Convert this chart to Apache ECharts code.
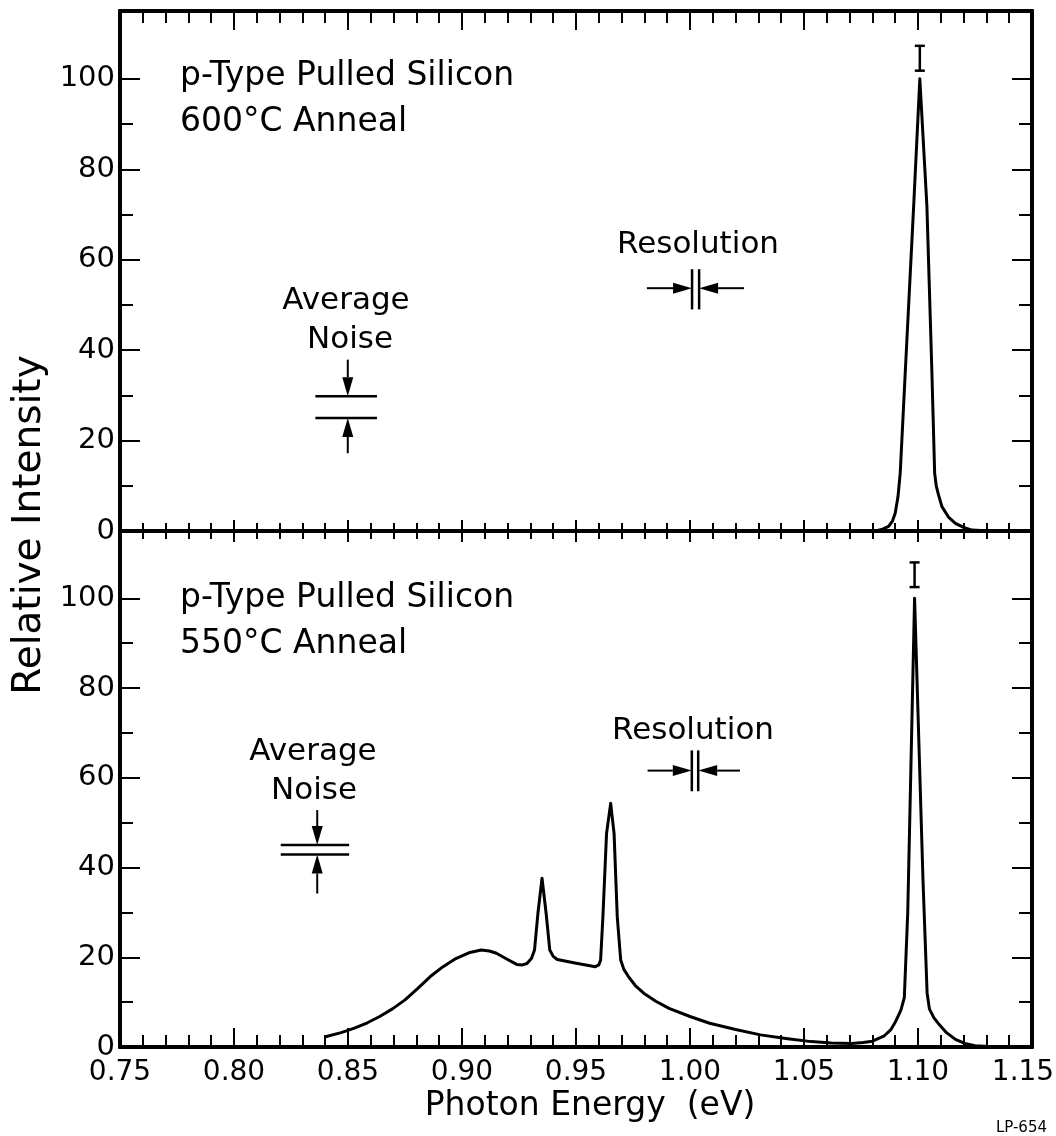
<!DOCTYPE html>
<html>
<head>
<meta charset="utf-8">
<title>p-Type Pulled Silicon</title>
<script src="https://cdn.jsdelivr.net/npm/echarts@6/dist/echarts.min.js"></script>
<style>
    html, body {margin: 0; padding: 0; background: #fff;}
    #chart {width: 1056px; height: 1136px;}
</style>
</head>
<body>
<div id="chart"></div>
<script>
    // values: photon energy (eV) -> relative intensity
    const energy600 = [1.075, 1.0813, 1.0845, 1.0871, 1.0888, 1.0900, 1.0912, 1.0922, 1.0944, 1.0981, 1.1008, 1.1039, 1.1061, 1.1073,
        1.1080, 1.1090, 1.1105, 1.1135, 1.1164, 1.1200, 1.1237, 1.1310]
    const intensity600 = [0, 0, 0.4, 1.0, 2.2, 3.9, 7.5, 12.8, 35, 71.9, 100, 71.9, 35, 12.8,
        10.0, 8.0, 5.4, 3.0, 1.7, 0.8, 0.2, 0]

    const energy550 = [0.8401, 0.8470, 0.8528, 0.8585, 0.8639, 0.8695, 0.8750, 0.8805, 0.8861, 0.8917, 0.8973, 0.9030, 0.9084, 0.9120,
        0.9151, 0.9200, 0.9240, 0.9265, 0.9285, 0.9305, 0.9318, 0.9333, 0.9351, 0.9369, 0.9385, 0.9400, 0.9418, 0.9507, 0.9585, 0.9600,
        0.9608, 0.9618, 0.9634, 0.9652, 0.9667, 0.9681, 0.9696, 0.9710, 0.9730, 0.9760, 0.9797, 0.9850, 0.9908, 1.0000, 1.0086, 1.0200,
        1.0309, 1.0420, 1.0531, 1.0620, 1.0709, 1.0760, 1.0800, 1.0850, 1.0880, 1.0900, 1.0925, 1.0940, 1.0955, 1.0985, 1.1022, 1.1040,
        1.1050, 1.1070, 1.1090, 1.1125, 1.1164, 1.1205, 1.1250, 1.1350]
    const intensity550 = [2.3, 3.2, 4.2, 5.4, 6.8, 8.5, 10.5, 13.0, 15.7, 17.9, 19.7, 21.0, 21.6, 21.4,
        20.9, 19.5, 18.4, 18.3, 18.6, 19.8, 21.6, 29.8, 37.6, 29.8, 21.6, 20.2, 19.5, 18.6, 17.9, 18.3,
        19.4, 29.0, 47.6, 54.3, 47.6, 29.0, 19.4, 17.3, 15.7, 13.7, 12.0, 10.2, 8.6, 6.8, 5.3, 3.9,
        2.7, 1.9, 1.2, 0.9, 0.8, 1.0, 1.3, 2.4, 3.8, 5.5, 8.2, 11, 30, 100, 37, 12,
        8.5, 6.5, 5.2, 3.2, 1.7, 0.8, 0.3, 0]

    const yMajorTicks = [0, 20, 40, 60, 80, 100]
    const yMinorTicks = [10, 30, 50, 70, 90]

    // annotations, [x1, y1, x2, y2] in data units (arrows: tail -> tip)
    const segments600 = [
        [0.8357, 29.8, 0.8627, 29.8], [0.8357, 25.0, 0.8627, 25.0],
        [1.0009, 57.9, 1.0009, 49.0], [1.0040, 57.9, 1.0040, 49.0],
        [1.1008, 101.8, 1.1008, 107.3], [1.0986, 107.3, 1.1030, 107.3], [1.0986, 101.8, 1.1030, 101.8]
    ]
    const arrows600 = [
        [0.8499, 37.9, 0.8499, 29.8], [0.8499, 17.2, 0.8499, 25.0],
        [0.9811, 53.7, 1.0009, 53.7], [1.0237, 53.7, 1.0040, 53.7]
    ]
    const segments550 = [
        [0.8205, 45.0, 0.8505, 45.0], [0.8205, 42.9, 0.8505, 42.9],
        [1.0008, 66.1, 1.0008, 57.0], [1.0036, 66.1, 1.0036, 57.0],
        [1.0985, 102.5, 1.0985, 108.0], [1.0963, 108.0, 1.1007, 108.0], [1.0963, 102.5, 1.1007, 102.5]
    ]
    const arrows550 = [
        [0.8365, 52.8, 0.8365, 45.0], [0.8365, 34.2, 0.8365, 42.9],
        [0.9814, 61.6, 1.0008, 61.6], [1.0219, 61.6, 1.0036, 61.6]
    ]

    const font = 'DejaVu Sans'

    function pairs(xs, ys) {
        return xs.map((x, i) => [x, ys[i]])
    }

    function renderSegment(params, api) {
        const a = api.coord([api.value(0), api.value(1)])
        const b = api.coord([api.value(2), api.value(3)])
        return {type: 'line', shape: {x1: a[0], y1: a[1], x2: b[0], y2: b[1]}, style: {stroke: '#000', lineWidth: 2.5}}
    }

    function renderArrow(params, api) {
        const a = api.coord([api.value(0), api.value(1)])
        const b = api.coord([api.value(2), api.value(3)])
        const len = Math.hypot(b[0] - a[0], b[1] - a[1])
        const ux = (b[0] - a[0]) / len, uy = (b[1] - a[1]) / len
        const hl = 19, hw = 5.5
        const bx = b[0] - ux * hl, by = b[1] - uy * hl
        return {
            type: 'group',
            children: [
                {type: 'line', shape: {x1: a[0], y1: a[1], x2: bx, y2: by}, style: {stroke: '#000', lineWidth: 2}},
                {type: 'polygon', shape: {points: [[b[0], b[1]], [bx - uy * hw, by + ux * hw], [bx + uy * hw, by - ux * hw]]}, style: {fill: '#000'}}
            ]
        }
    }

    // last tick label sits a little left of the frame, as in the original
    function energyLabel(v) {
        return Math.abs(v - 1.15) < 1e-9 ? '{end|1.15}' : v.toFixed(2)
    }

    function xAxis(gridIndex, position, major, minor, showLabel) {
        return {
            type: 'value', gridIndex, position, min: 0.75, max: 1.15, interval: 0.05,
            axisLine: {show: true, onZero: false, lineStyle: {color: '#000', width: 4}},
            axisTick: {show: true, inside: true, length: major, lineStyle: {color: '#000', width: 2}},
            minorTick: {show: true, splitNumber: 5, length: minor, lineStyle: {color: '#000', width: 2}},
            axisLabel: {
                show: showLabel, color: '#000', fontSize: 28, fontFamily: font, margin: 12, formatter: energyLabel,
                rich: {end: {color: '#000', fontSize: 28, fontFamily: font, padding: [0, 18, 0, 0]}}
            },
            splitLine: {show: false}
        }
    }

    function yAxis(gridIndex, position, ticks, length, showLabel) {
        return {
            type: 'value', gridIndex, position, min: 0, max: 115, interval: 20,
            axisLine: {show: true, onZero: false, lineStyle: {color: '#000', width: 4}},
            axisTick: {show: true, inside: true, length, customValues: ticks, lineStyle: {color: '#000', width: 2}},
            axisLabel: {show: showLabel, customValues: ticks, color: '#000', fontSize: 29, fontFamily: font, margin: 5},
            splitLine: {show: false}
        }
    }

    const texts = [
        {text: 'p-Type Pulled Silicon', x: 180, y: 76, size: 33, align: 'left'},
        {text: '600°C Anneal', x: 180, y: 122, size: 33, align: 'left'},
        {text: 'p-Type Pulled Silicon', x: 180, y: 598, size: 33, align: 'left'},
        {text: '550°C Anneal', x: 180, y: 644, size: 33, align: 'left'},
        {text: 'Average', x: 346, y: 301, size: 31},
        {text: 'Noise', x: 350, y: 340, size: 31},
        {text: 'Average', x: 313, y: 752, size: 31},
        {text: 'Noise', x: 314, y: 791, size: 31},
        {text: 'Resolution', x: 698, y: 245, size: 31},
        {text: 'Resolution', x: 693, y: 731, size: 31},
        {text: 'Relative Intensity', x: 30, y: 525, size: 39, rotation: Math.PI / 2},
        {text: 'Photon Energy  (eV)', x: 590, y: 1106, size: 33},
        {text: 'LP-654', x: 1047, y: 1128, size: 15, align: 'right'}
    ]

    const myChart = echarts.init(document.getElementById('chart'))
    myChart.setOption({
        animation: false,
        backgroundColor: '#fff',
        grid: [
            {left: 120, top: 11, width: 912, height: 520, containLabel: false, outerBoundsMode: 'none'},
            {left: 120, top: 531, width: 912, height: 516, containLabel: false, outerBoundsMode: 'none'}
        ],
        xAxis: [
            xAxis(0, 'bottom', 11, 8, false),
            xAxis(0, 'top', 19, 12, false),
            xAxis(1, 'top', 11, 8, false),
            xAxis(1, 'bottom', 19, 12, true)
        ],
        yAxis: [
            yAxis(0, 'left', yMajorTicks, 20, true),
            yAxis(0, 'left', yMinorTicks, 13, false),
            yAxis(0, 'right', yMajorTicks, 20, false),
            yAxis(0, 'right', yMinorTicks, 13, false),
            yAxis(1, 'left', yMajorTicks, 20, true),
            yAxis(1, 'left', yMinorTicks, 13, false),
            yAxis(1, 'right', yMajorTicks, 20, false),
            yAxis(1, 'right', yMinorTicks, 13, false)
        ],
        series: [
            {
                type: 'line', xAxisIndex: 0, yAxisIndex: 0, data: pairs(energy600, intensity600),
                showSymbol: false, symbol: 'none', lineStyle: {color: '#000', width: 3, join: 'round'}
            },
            {
                type: 'line', xAxisIndex: 3, yAxisIndex: 4, data: pairs(energy550, intensity550),
                showSymbol: false, symbol: 'none', lineStyle: {color: '#000', width: 3, join: 'round'}
            },
            {type: 'custom', xAxisIndex: 0, yAxisIndex: 0, data: segments600, renderItem: renderSegment},
            {type: 'custom', xAxisIndex: 0, yAxisIndex: 0, data: arrows600, renderItem: renderArrow},
            {type: 'custom', xAxisIndex: 3, yAxisIndex: 4, data: segments550, renderItem: renderSegment},
            {type: 'custom', xAxisIndex: 3, yAxisIndex: 4, data: arrows550, renderItem: renderArrow}
        ],
        graphic: texts.map(t => ({
            type: 'text', x: t.x, y: t.y, rotation: t.rotation || 0,
            style: {
                text: t.text, fill: '#000', fontSize: t.size, fontFamily: font,
                textAlign: t.align || 'center', textVerticalAlign: 'middle'
            }
        }))
    })
</script>
</body>
</html>
